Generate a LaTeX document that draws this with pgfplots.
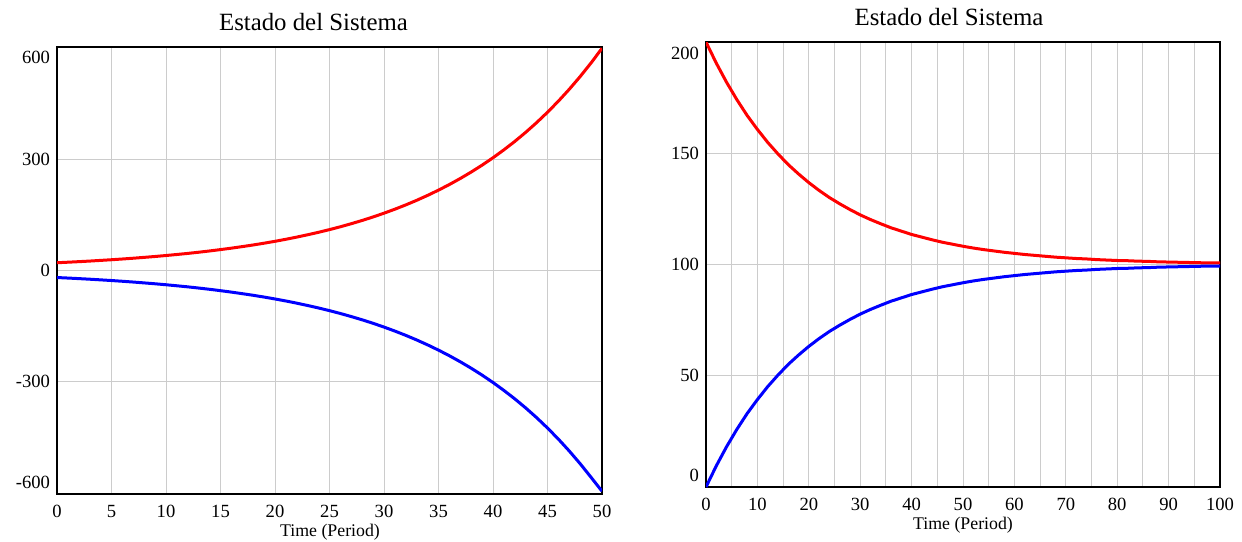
\documentclass[border=0pt]{standalone}
\usepackage{pgfplots}
\pgfplotsset{compat=1.18}
\usepackage{fontspec}
\setmainfont{Liberation Serif}

\pgfplotsset{
  vensim/.style={
    scale only axis,
    anchor=south west,
    axis line style={line width=1pt, black},
    major grid style={line width=0.5pt, black!20},
    minor grid style={line width=0.5pt, black!20},
    major tick length=0pt,
    minor tick length=0pt,
    tick label style={font=\fontsize{9.3}{10}\selectfont},
    xticklabel style={yshift=-2pt},
    /pgf/number format/assume math mode=true,
    every axis plot/.append style={line width=1.5pt, no marks},
  }
}

\begin{document}
\begin{tikzpicture}
\path[use as bounding box] (0,0) rectangle (621pt,270.5pt);

% left: exponential divergence
\begin{axis}[vensim,
  at={(28.5pt,23.5pt)},
  width=272.5pt, height=223.5pt,
  xmin=0, xmax=50, ymin=-605, ymax=603,
  xtick={0,5,...,50},
  ytick={-300,0,300}, yticklabels={-300,0,300},
  extra y ticks={-600,600},
  extra y tick labels={\raisebox{5pt}[\height][\depth]{-600},\raisebox{-4.5pt}[\height][\depth]{600}},
  extra y tick style={grid=none},
  grid=major,
]
\addplot[red] coordinates {
(0,20.0) (1,21.4) (2,22.9) (3,24.5) (4,26.3) (5,28.1) (6,30.1) (7,32.2) (8,34.5) (9,36.9)
(10,39.5) (11,42.3) (12,45.2) (13,48.4) (14,51.8) (15,55.5) (16,59.4) (17,63.6) (18,68.0) (19,72.8)
(20,77.9) (21,83.4) (22,89.3) (23,95.6) (24,102.3) (25,109.5) (26,117.2) (27,125.5) (28,134.3) (29,143.7)
(30,153.9) (31,164.7) (32,176.3) (33,188.7) (34,202.0) (35,216.2) (36,231.4) (37,247.7) (38,265.1) (39,283.7)
(40,303.7) (41,325.1) (42,347.9) (43,372.4) (44,398.6) (45,426.7) (46,456.7) (47,488.9) (48,523.3) (49,560.1)
(50,599.5)
};
\addplot[blue] coordinates {
(0,-20.0) (1,-21.4) (2,-22.9) (3,-24.5) (4,-26.3) (5,-28.1) (6,-30.1) (7,-32.2) (8,-34.5) (9,-36.9)
(10,-39.5) (11,-42.3) (12,-45.2) (13,-48.4) (14,-51.8) (15,-55.5) (16,-59.4) (17,-63.6) (18,-68.0) (19,-72.8)
(20,-77.9) (21,-83.4) (22,-89.3) (23,-95.6) (24,-102.3) (25,-109.5) (26,-117.2) (27,-125.5) (28,-134.3) (29,-143.7)
(30,-153.9) (31,-164.7) (32,-176.3) (33,-188.7) (34,-202.0) (35,-216.2) (36,-231.4) (37,-247.7) (38,-265.1) (39,-283.7)
(40,-303.7) (41,-325.1) (42,-347.9) (43,-372.4) (44,-398.6) (45,-426.7) (46,-456.7) (47,-488.9) (48,-523.3) (49,-560.1)
(50,-597.5)
};
\end{axis}

% right: convergence to 100
\begin{axis}[vensim,
  at={(353pt,27pt)},
  width=257pt, height=222.5pt,
  xmin=0, xmax=100, ymin=0, ymax=200,
  xtick={0,10,...,100},
  minor xtick={5,15,...,95},
  ytick={0,50,100,150,200},
  yticklabels={\raisebox{6pt}[\height][\depth]{0},50,100,150,\raisebox{-5.5pt}[\height][\depth]{200}},
  grid=both,
]
\addplot[red] coordinates {
(0,200.0) (2,190.5) (4,181.9) (6,174.1) (8,167.0) (10,160.7) (12,154.9) (14,149.7) (16,144.9) (18,140.7)
(20,136.8) (22,133.3) (24,130.1) (26,127.3) (28,124.7) (30,122.3) (32,120.2) (34,118.3) (36,116.5) (38,115.0)
(40,113.5) (42,112.3) (44,111.1) (46,110.0) (48,109.1) (50,108.2) (52,107.4) (54,106.7) (56,106.1) (58,105.5)
(60,105.0) (62,104.5) (64,104.1) (66,103.7) (68,103.3) (70,103.0) (72,102.7) (74,102.5) (76,102.2) (78,102.0)
(80,101.8) (82,101.7) (84,101.5) (86,101.4) (88,101.2) (90,101.1) (92,101.0) (94,100.9) (96,100.8) (98,100.7)
(100,100.7)
};
\addplot[blue] coordinates {
(0,0.0) (2,9.5) (4,18.1) (6,25.9) (8,33.0) (10,39.3) (12,45.1) (14,50.3) (16,55.1) (18,59.3)
(20,63.2) (22,66.7) (24,69.9) (26,72.7) (28,75.3) (30,77.7) (32,79.8) (34,81.7) (36,83.5) (38,85.0)
(40,86.5) (42,87.7) (44,88.9) (46,90.0) (48,90.9) (50,91.8) (52,92.6) (54,93.3) (56,93.9) (58,94.5)
(60,95.0) (62,95.5) (64,95.9) (66,96.3) (68,96.7) (70,97.0) (72,97.3) (74,97.5) (76,97.8) (78,98.0)
(80,98.2) (82,98.3) (84,98.5) (86,98.6) (88,98.8) (90,98.9) (92,99.0) (94,99.1) (96,99.2) (98,99.3)
(100,99.3)
};
\end{axis}

\node[font=\fontsize{12.4}{14}\selectfont] at (156.75pt,259.5pt) {Estado del Sistema};
\node[font=\fontsize{12.4}{14}\selectfont] at (474.5pt,262pt) {Estado del Sistema};
\node[font=\fontsize{8.9}{10}\selectfont] at (165pt,4.5pt) {Time (Period)};
\node[font=\fontsize{8.9}{10}\selectfont] at (481.5pt,8pt) {Time (Period)};
\end{tikzpicture}
\end{document}
